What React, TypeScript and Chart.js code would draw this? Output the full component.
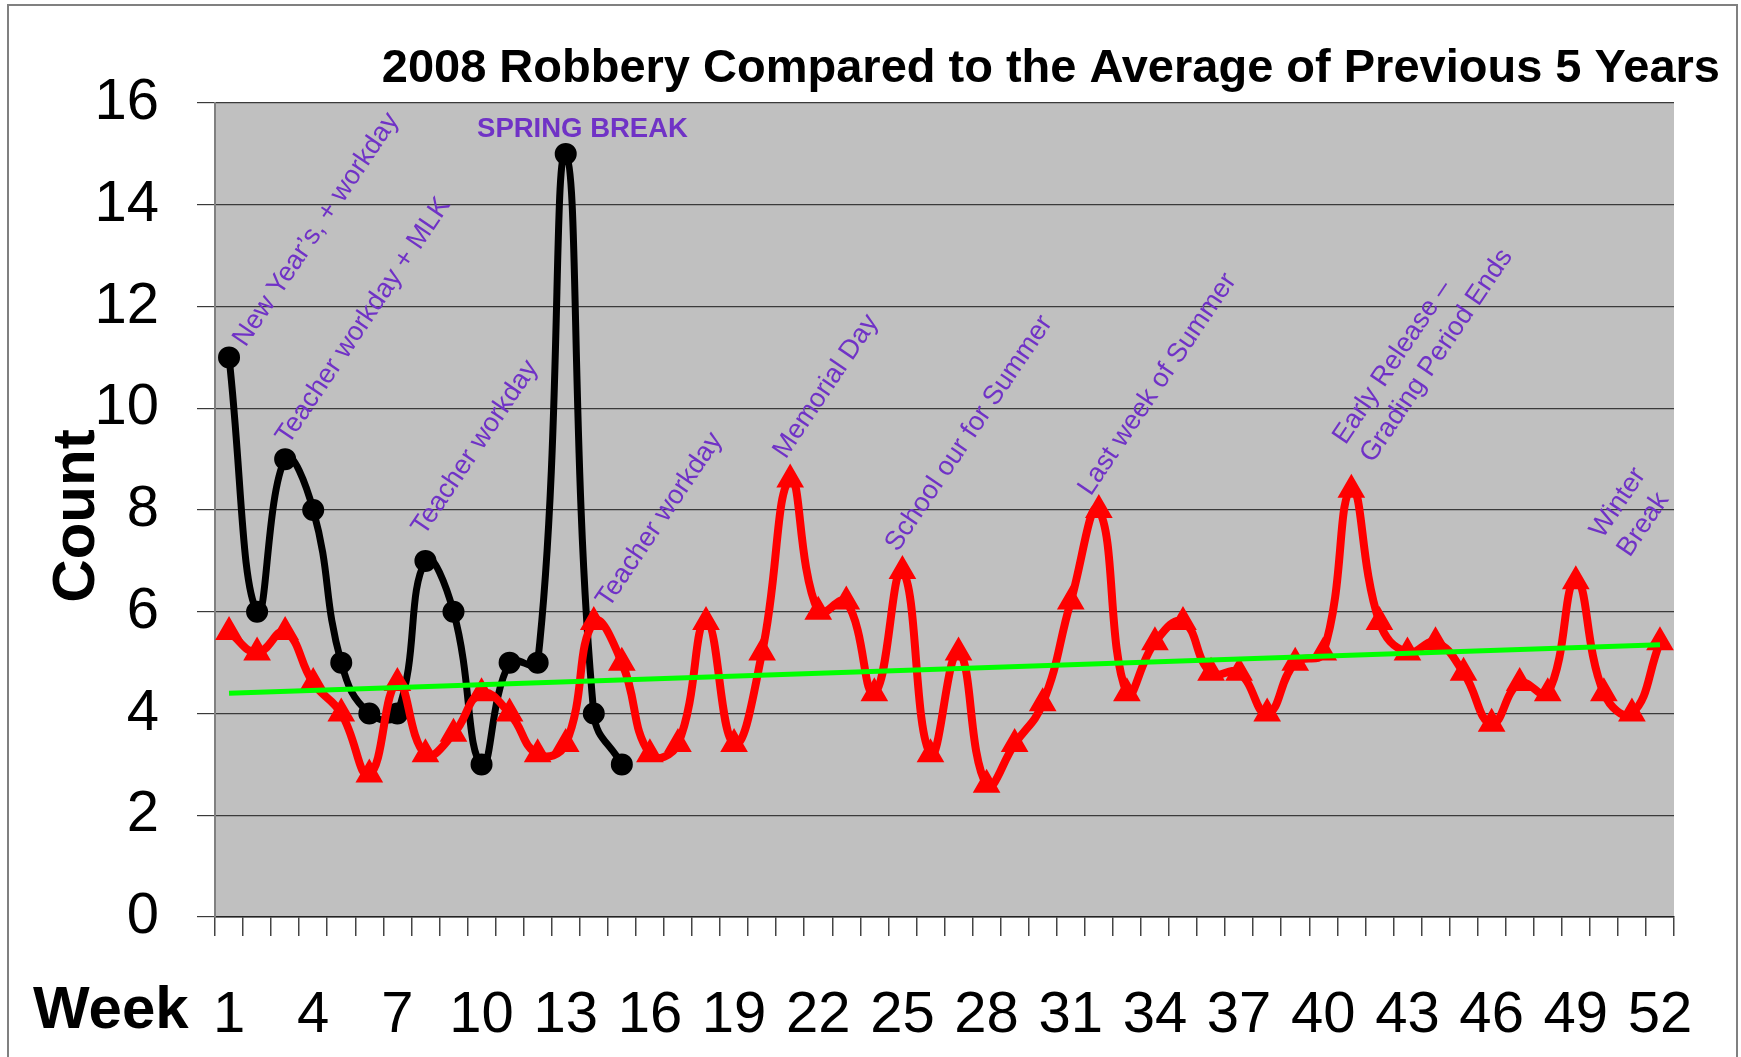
import React, { useEffect, useRef } from "react";
import { Chart, registerables } from "chart.js";

Chart.register(...registerables);

// ---------- data ----------
const weeks = [
  "1", "2", "3", "4", "5", "6", "7", "8", "9", "10", "11", "12", "13",
  "14", "15", "16", "17", "18", "19", "20", "21", "22", "23", "24", "25", "26",
  "27", "28", "29", "30", "31", "32", "33", "34", "35", "36", "37", "38", "39",
  "40", "41", "42", "43", "44", "45", "46", "47", "48", "49", "50", "51", "52",
];
const shownWeekLabels = ["1", "4", "7", "10", "13", "16", "19", "22", "25", "28", "31", "34", "37", "40", "43", "46", "49", "52"];

const robbery2008 = [11, 6, 9, 8, 5, 4, 4, 7, 6, 3, 5, 5, 15, 4, 3];

const previousFiveYearAverage = [
  5.6, 5.2, 5.6, 4.6, 4.0, 2.8, 4.6, 3.2, 3.6, 4.4,
  4.0, 3.2, 3.4, 5.8, 5.0, 3.2, 3.4, 5.8, 3.4, 5.2,
  8.6, 6.0, 6.2, 4.4, 6.8, 3.2, 5.2, 2.6, 3.4, 4.2,
  6.2, 8.0, 4.4, 5.4, 5.8, 4.8, 4.8, 4.0, 5.0, 5.2,
  8.4, 5.8, 5.2, 5.4, 4.8, 3.8, 4.6, 4.4, 6.6, 4.4,
  4.0, 5.4,
];

const trendStart = 4.4;
const trendEnd = 5.35;

const yMin = 0;
const yMax = 16;
const yStep = 2;

const titleText = "2008 Robbery Compared to the Average of Previous 5 Years";
const yTitleText = "Count";
const xTitleText = "Week";

// rotated holiday notes: baseline start anchored at (week, value) in data units
const notes = [
  { lines: ["New Year\u2019s, + workday"], week: 1.59, value: 11.19 },
  { lines: ["Teacher workday + MLK"], week: 3.12, value: 9.27 },
  { lines: ["Teacher workday"], week: 7.96, value: 7.48 },
  { lines: ["Teacher workday"], week: 14.53, value: 6.06 },
  { lines: ["Memorial Day"], week: 20.84, value: 8.99 },
  { lines: ["School our for Summer"], week: 24.83, value: 7.16 },
  { lines: ["Last week of Summer"], week: 31.71, value: 8.26 },
  { lines: ["Early Release \u2013", "Grading Period Ends"], week: 40.79, value: 9.27 },
  { lines: ["Winter", "Break"], week: 49.95, value: 7.42 },
];
const springBreak = { text: "SPRING BREAK", week: 9.84, value: 15.34 };

// ---------- styles ----------
const FONT = "'Liberation Sans', Arial, Helvetica, sans-serif";
const NOTE_COLOR = "#7032C6";
const W = 1741;
const H = 1057;

const decorPlugin = {
  id: "decor",
  beforeDraw(chart: any) {
    const { ctx, chartArea: a } = chart;
    ctx.save();
    ctx.fillStyle = "#ffffff";
    ctx.fillRect(0, 0, chart.width, chart.height);
    ctx.fillStyle = "#C0C0C0";
    ctx.fillRect(a.left, a.top, a.right - a.left, a.bottom - a.top);
    ctx.restore();
  },
  afterDatasetsDraw(chart: any) {
    const { ctx } = chart;
    const xs = chart.scales.x;
    const ys = chart.scales.y;
    ctx.save();
    ctx.fillStyle = NOTE_COLOR;
    ctx.font = `27px ${FONT}`;
    ctx.textAlign = "left";
    ctx.textBaseline = "alphabetic";
    const ang = (-56 * Math.PI) / 180;
    const nx = Math.cos(ang + Math.PI / 2);
    const ny = Math.sin(ang + Math.PI / 2);
    for (const n of notes) {
      const px = xs.getPixelForValue(n.week - 1);
      const py = ys.getPixelForValue(n.value);
      n.lines.forEach((line, i) => {
        ctx.save();
        ctx.translate(px + nx * 33 * i, py + ny * 33 * i);
        ctx.rotate(ang);
        ctx.fillText(line, 0, 0);
        ctx.restore();
      });
    }
    ctx.font = `bold 27.5px ${FONT}`;
    ctx.fillText(
      springBreak.text,
      xs.getPixelForValue(springBreak.week - 1),
      ys.getPixelForValue(springBreak.value)
    );
    ctx.restore();
  },
  afterDraw(chart: any) {
    const { ctx, chartArea: a } = chart;
    ctx.save();
    ctx.strokeStyle = "#808080";
    ctx.lineWidth = 2;
    ctx.strokeRect(8, 5, 1729, 1200);
    ctx.fillStyle = "#000";
    ctx.font = `bold 47px ${FONT}`;
    ctx.textAlign = "right";
    ctx.textBaseline = "alphabetic";
    ctx.fillText(titleText, 1720, 82);
    ctx.font = `bold 60px ${FONT}`;
    ctx.textAlign = "left";
    ctx.fillText(xTitleText, 33, 1028);
    ctx.save();
    ctx.translate(94, (a.top + a.bottom) / 2 + 6);
    ctx.rotate(-Math.PI / 2);
    ctx.textAlign = "center";
    ctx.fillText(yTitleText, 0, 0);
    ctx.restore();
    ctx.restore();
  },
};

export default function App() {
  const ref = useRef<HTMLCanvasElement | null>(null);

  useEffect(() => {
    if (!ref.current) return;
    Chart.defaults.font.family = FONT;
    const trend = weeks.map((_, i) => (i === 0 ? trendStart : i === weeks.length - 1 ? trendEnd : null));
    const chart = new Chart(ref.current, {
      type: "line",
      data: {
        labels: weeks,
        datasets: [
          {
            label: "Trend",
            data: trend,
            borderColor: "#00FF00",
            borderWidth: 5,
            pointRadius: 0,
            spanGaps: true,
            tension: 0,
            order: 0,
          },
          {
            label: "Average of Previous 5 Years",
            data: previousFiveYearAverage,
            borderColor: "#FF0000",
            backgroundColor: "#FF0000",
            borderWidth: 8,
            pointStyle: "triangle",
            pointRadius: 14,
            pointBorderWidth: 2,
            pointBackgroundColor: "#FF0000",
            pointBorderColor: "#FF0000",
            tension: 0.45,
            order: 1,
          },
          {
            label: "2008",
            data: robbery2008,
            borderColor: "#000000",
            backgroundColor: "#000000",
            borderWidth: 7,
            pointStyle: "circle",
            pointRadius: 10,
            pointBorderWidth: 2,
            pointBackgroundColor: "#000000",
            pointBorderColor: "#000000",
            tension: 0.45,
            order: 2,
          },
        ],
      },
      options: {
        responsive: false,
        animation: false,
        devicePixelRatio: 1,
        layout: { padding: { top: 103, right: 67, left: 0, bottom: 0 } },
        plugins: {
          legend: { display: false },
          title: { display: false },
          tooltip: { enabled: false },
        },
        scales: {
          x: {
            type: "category",
            offset: true,
            grid: {
              offset: true,
              drawOnChartArea: false,
              drawTicks: true,
              tickLength: 19,
              color: "#444",
              lineWidth: 1.5,
            },
            border: { display: true, color: "#222", width: 1.5 },
            ticks: {
              autoSkip: false,
              maxRotation: 0,
              minRotation: 0,
              padding: 45,
              color: "#000",
              font: { size: 58, family: FONT },
              callback: (_v: any, i: number) => (shownWeekLabels.includes(weeks[i]) ? weeks[i] : ""),
            },
            afterFit: (s: any) => {
              s.height = 140;
            },
          },
          y: {
            min: yMin,
            max: yMax,
            grid: {
              color: "#3a3a3a",
              lineWidth: 1.2,
              drawTicks: true,
              tickLength: 18,
            },
            border: { display: true, color: "#808080", width: 2 },
            ticks: {
              stepSize: yStep,
              padding: 38,
              color: "#000",
              font: { size: 58, family: FONT },
            },
            afterFit: (s: any) => {
              s.width = 215;
            },
          },
        },
      },
      plugins: [decorPlugin],
    });
    return () => chart.destroy();
  }, []);

  return (
    <div style={{ position: "absolute", left: 0, top: 0, width: W, height: H, background: "#fff" }}>
      <canvas ref={ref} width={W} height={H} style={{ display: "block", width: W, height: H }} />
    </div>
  );
}
